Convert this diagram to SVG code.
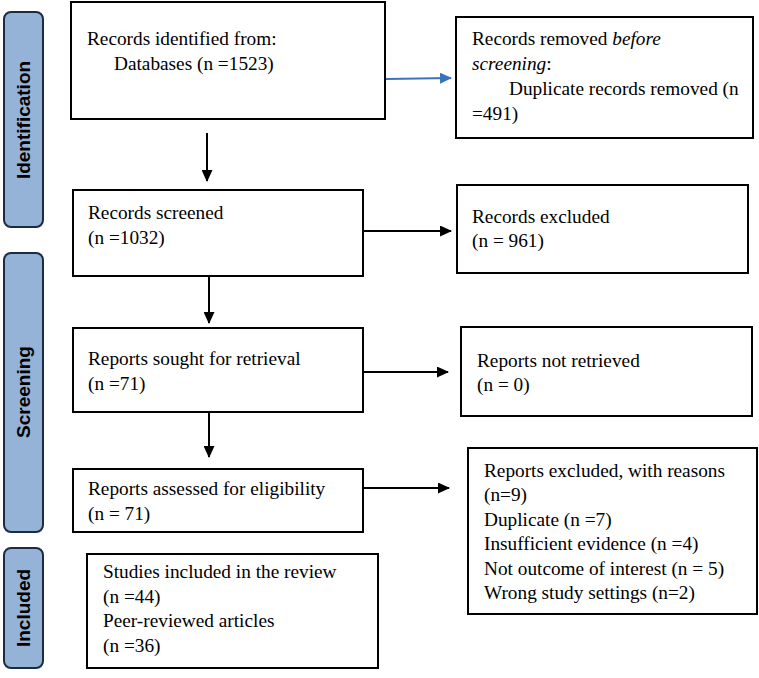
<svg xmlns="http://www.w3.org/2000/svg" width="759" height="678" viewBox="0 0 759 678">
<style>
.box{fill:#fff;stroke:#000;stroke-width:2}
.side{fill:#95b3d7;stroke:#1c2a44;stroke-width:2}
.t{font-family:"Liberation Serif","Times New Roman",serif;font-size:19.3px;fill:#000}
.s{font-family:"Liberation Sans",Arial,sans-serif;font-size:19px;font-weight:bold;fill:#000;text-anchor:middle}
.c{stroke:#000;stroke-width:2;fill:none}
.cb{stroke:#3a72c0;stroke-width:2;fill:none}
</style>
<defs>
<marker id="ah" markerWidth="12" markerHeight="11" refX="11" refY="5.5" orient="auto" markerUnits="userSpaceOnUse"><path d="M0,0 L12,5.5 L0,11 z" fill="#000"/></marker>
<marker id="ahb" markerWidth="12" markerHeight="11" refX="11" refY="5.5" orient="auto" markerUnits="userSpaceOnUse"><path d="M0,0 L12,5.5 L0,11 z" fill="#3a72c0"/></marker>
</defs>
<rect width="759" height="678" fill="#fff"/>
<g id="side-identification"><rect class="side" x="4" y="12" width="39" height="215" rx="7"/><text class="s" transform="translate(30,120) rotate(-90)">Identification</text></g>
<g id="side-screening"><rect class="side" x="4" y="253" width="39" height="279" rx="7"/><text class="s" transform="translate(30,392) rotate(-90)">Screening</text></g>
<g id="side-included"><rect class="side" x="4" y="548" width="39" height="120" rx="7"/><text class="s" transform="translate(30,608) rotate(-90)">Included</text></g>

<g id="identified"><rect class="box" x="71" y="2" width="314" height="117"/><text class="t" x="87" y="45">Records identified from:</text><text class="t" x="114" y="70">Databases (n =1523)</text></g>
<g id="removed"><rect class="box" x="456" y="17" width="297" height="121"/><text class="t" x="472" y="45">Records removed <tspan font-style="italic">before</tspan></text><text class="t" x="472" y="70"><tspan font-style="italic">screening</tspan>:</text><text class="t" x="509" y="95">Duplicate records removed (n</text><text class="t" x="472" y="120">=491)</text></g>
<g id="screened"><rect class="box" x="73" y="190" width="290" height="86"/><text class="t" x="88" y="219">Records screened</text><text class="t" x="88" y="244">(n =1032)</text></g>
<g id="excluded"><rect class="box" x="457" y="185" width="291" height="88"/><text class="t" x="472" y="223">Records excluded</text><text class="t" x="472" y="247">(n = 961)</text></g>
<g id="sought"><rect class="box" x="73" y="328" width="290" height="84"/><text class="t" x="88" y="365">Reports sought for retrieval</text><text class="t" x="88" y="390">(n =71)</text></g>
<g id="notretrieved"><rect class="box" x="461" y="327" width="291" height="89"/><text class="t" x="477" y="367">Reports not retrieved</text><text class="t" x="477" y="391">(n = 0)</text></g>
<g id="assessed"><rect class="box" x="73" y="469" width="290" height="63"/><text class="t" x="88" y="495">Reports assessed for eligibility</text><text class="t" x="88" y="520">(n = 71)</text></g>
<g id="reportsexcluded"><rect class="box" x="468" y="448" width="289" height="166"/><text class="t" x="484" y="477">Reports excluded, with reasons</text><text class="t" x="484" y="501">(n=9)</text><text class="t" x="484" y="526">Duplicate (n =7)</text><text class="t" x="484" y="550">Insufficient evidence (n =4)</text><text class="t" x="484" y="575">Not outcome of interest (n = 5)</text><text class="t" x="484" y="599">Wrong study settings (n=2)</text></g>
<g id="included"><rect class="box" x="87" y="554" width="291" height="114"/><text class="t" x="103" y="578">Studies included in the review</text><text class="t" x="103" y="603">(n =44)</text><text class="t" x="103" y="627">Peer-reviewed articles</text><text class="t" x="103" y="652">(n =36)</text></g>

<g id="connectors">
<line class="cb" x1="386" y1="79" x2="451" y2="78" marker-end="url(#ahb)"/>
<line class="c" x1="207" y1="133" x2="207" y2="181" marker-end="url(#ah)"/>
<line class="c" x1="363" y1="231" x2="451" y2="231" marker-end="url(#ah)"/>
<line class="c" x1="209" y1="276" x2="209" y2="323" marker-end="url(#ah)"/>
<line class="c" x1="363" y1="372" x2="448" y2="372" marker-end="url(#ah)"/>
<line class="c" x1="209" y1="412" x2="209" y2="457" marker-end="url(#ah)"/>
<line class="c" x1="363" y1="488" x2="449" y2="488" marker-end="url(#ah)"/>
</g>
</svg>
